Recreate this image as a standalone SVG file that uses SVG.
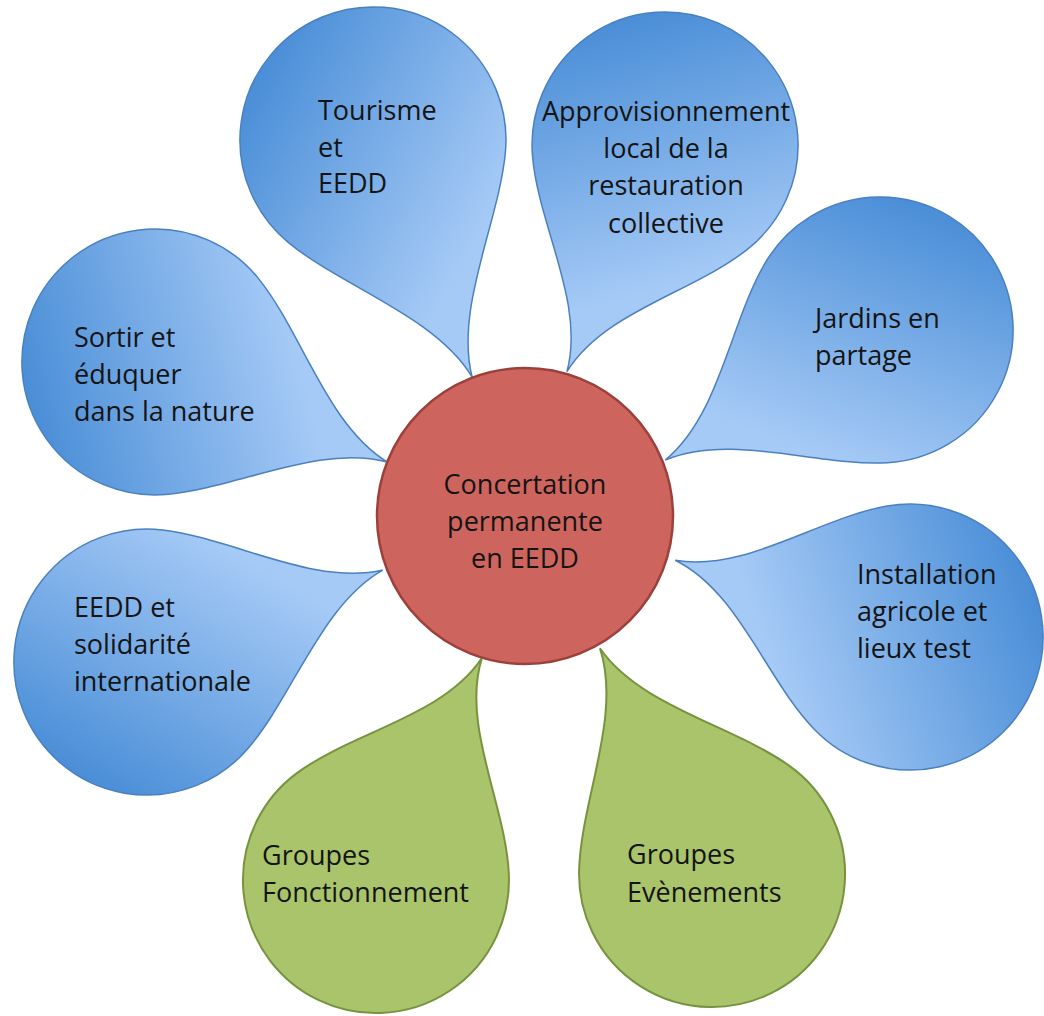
<svg xmlns="http://www.w3.org/2000/svg" width="1044" height="1016" viewBox="0 0 1044 1016">
<defs>
<linearGradient id="gBlue" gradientUnits="userSpaceOnUse" x1="-105" y1="82" x2="110" y2="-86">
<stop offset="0" stop-color="#4a8ed7"/>
<stop offset="1" stop-color="#a6caf6"/>
</linearGradient>
<style>
.blue{fill:url(#gBlue);stroke:#4a80c0;stroke-width:1.5}
.green{fill:#a9c46b;stroke:#76933e;stroke-width:2}
.center{fill:#cd655e;stroke:#9c403b;stroke-width:2.5}
text{font-family:"Open Sans","Liberation Sans",sans-serif;font-size:27px;fill:#141414}
.mid{text-anchor:middle}
</style>
</defs>
<rect width="1044" height="1016" fill="#ffffff"/>
<g id="connectors"></g>
<g id="petal-tourisme">
<path class="blue" transform="translate(373,140) rotate(67.3)" d="M257 0C187 10 124.2 84.6 62.4 117.4A133 133 0 1 1 62.4 -117.4C124.2 -84.6 187 -10 257 0Z"/>
<text x="318" y="120">Tourisme</text>
<text x="318" y="157">et</text>
<text x="318" y="193">EEDD</text>
</g>
<g id="petal-approvisionnement">
<path class="blue" transform="translate(665,145) rotate(113.4)" d="M247 0C177 10 124.2 84.6 62.4 117.4A133 133 0 1 1 62.4 -117.4C124.2 -84.6 177 -10 247 0Z"/>
<text class="mid" x="666" y="121">Approvisionnement</text>
<text class="mid" x="666" y="158">local de la</text>
<text class="mid" x="666" y="195">restauration</text>
<text class="mid" x="666" y="233">collective</text>
</g>
<g id="petal-jardins">
<path class="blue" transform="translate(880,330) rotate(148.8)" d="M251 0C181 10 124.2 84.6 62.4 117.4A133 133 0 1 1 62.4 -117.4C124.2 -84.6 181 -10 251 0Z"/>
<text x="815" y="328">Jardins en</text>
<text x="815" y="365">partage</text>
</g>
<g id="petal-installation">
<path class="blue" transform="translate(910,637) rotate(198.1)" d="M247 0C177 10 124.2 84.6 62.4 117.4A133 133 0 1 1 62.4 -117.4C124.2 -84.6 177 -10 247 0Z"/>
<text x="857" y="584">Installation</text>
<text x="857" y="621">agricole et</text>
<text x="857" y="658">lieux test</text>
</g>
<g id="petal-evenements">
<path class="green" transform="translate(712,874) rotate(243.6)" d="M252 0C182 10 124.2 84.6 62.4 117.4A133 133 0 1 1 62.4 -117.4C124.2 -84.6 182 -10 252 0Z"/>
<text x="627" y="864">Groupes</text>
<text x="627" y="902">Evènements</text>
</g>
<g id="petal-fonctionnement">
<path class="green" transform="translate(376,880) rotate(-64.5)" d="M246 0C176 10 124.2 84.6 62.4 117.4A133 133 0 1 1 62.4 -117.4C124.2 -84.6 176 -10 246 0Z"/>
<text x="262" y="865">Groupes</text>
<text x="262" y="902">Fonctionnement</text>
</g>
<g id="petal-solidarite">
<path class="blue" transform="translate(147,662) rotate(-21.3)" d="M253 0C183 10 124.2 84.6 62.4 117.4A133 133 0 1 1 62.4 -117.4C124.2 -84.6 183 -10 253 0Z"/>
<text x="74" y="617">EEDD et</text>
<text x="74" y="654">solidarité</text>
<text x="74" y="691">internationale</text>
</g>
<g id="petal-sortir">
<path class="blue" transform="translate(155,362) rotate(23.3)" d="M253 0C183 10 124.2 84.6 62.4 117.4A133 133 0 1 1 62.4 -117.4C124.2 -84.6 183 -10 253 0Z"/>
<text x="74" y="347">Sortir et</text>
<text x="74" y="384">éduquer</text>
<text x="74" y="421">dans la nature</text>
</g>
<g id="center">
<circle class="center" cx="525" cy="516" r="148"/>
<text class="mid" x="525" y="494">Concertation</text>
<text class="mid" x="525" y="531">permanente</text>
<text class="mid" x="525" y="568">en EEDD</text>
</g>
</svg>
